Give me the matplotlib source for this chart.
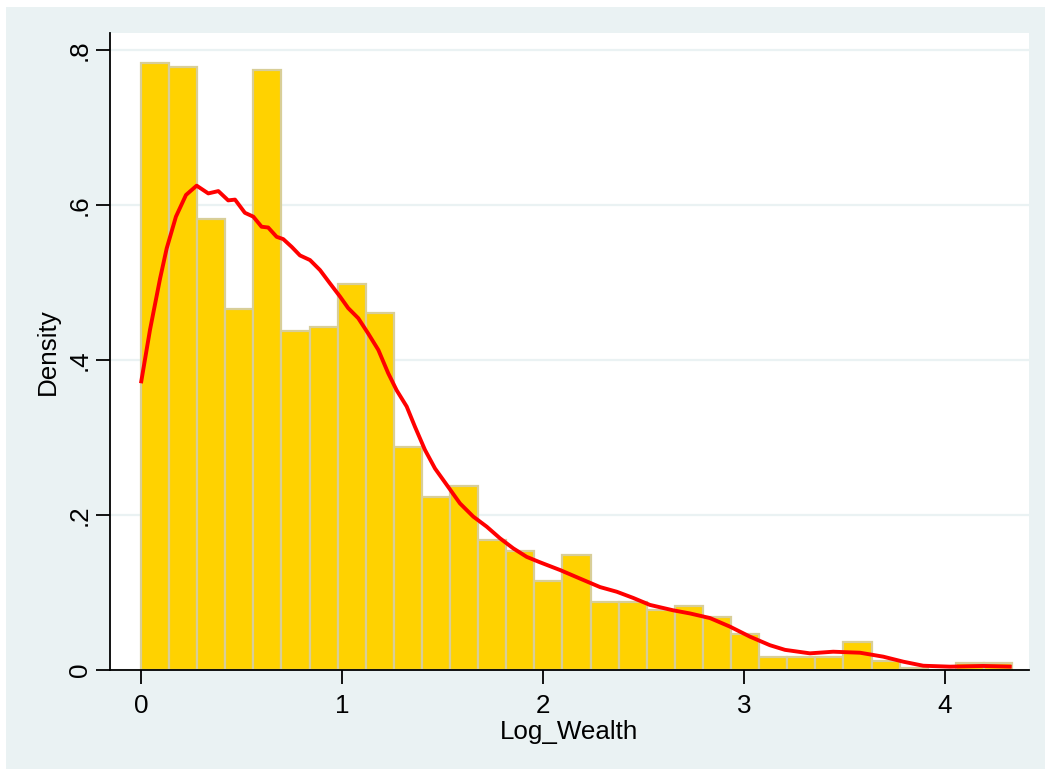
import matplotlib
matplotlib.use("Agg")
import matplotlib.pyplot as plt
from matplotlib.patches import Rectangle

# Histogram of log wealth (density scale)
bin_start = 0.0
bin_width = 0.1398
densities = [0.783, 0.778, 0.582, 0.466, 0.774, 0.438, 0.443, 0.498, 0.461, 0.288,
             0.223, 0.237, 0.168, 0.154, 0.115, 0.148, 0.088, 0.088, 0.078, 0.083,
             0.069, 0.046, 0.017, 0.017, 0.017, 0.036, 0.012, 0.003, 0.0, 0.0086,
             0.0086]

# Kernel density estimate
kde_x = [0.000, 0.045, 0.095, 0.128, 0.174, 0.224, 0.277, 0.335, 0.385, 0.434,
         0.468, 0.517, 0.559, 0.600, 0.633, 0.675, 0.708, 0.750, 0.791, 0.841,
         0.891, 0.940, 0.990, 1.031, 1.081, 1.131, 1.181, 1.230, 1.272, 1.322,
         1.363, 1.413, 1.463, 1.521, 1.587, 1.653, 1.720, 1.786, 1.852, 1.919,
         1.985, 2.085, 2.184, 2.284, 2.367, 2.449, 2.532, 2.648, 2.731, 2.831,
         2.930, 3.030, 3.129, 3.204, 3.328, 3.444, 3.577, 3.693, 3.793, 3.892,
         4.025, 4.190, 4.332]
kde_y = [0.370, 0.439, 0.505, 0.544, 0.585, 0.613, 0.625, 0.615, 0.618, 0.606,
         0.607, 0.590, 0.585, 0.572, 0.571, 0.559, 0.556, 0.546, 0.535, 0.529,
         0.516, 0.499, 0.482, 0.467, 0.454, 0.434, 0.413, 0.383, 0.361, 0.340,
         0.314, 0.284, 0.260, 0.239, 0.215, 0.198, 0.185, 0.170, 0.157, 0.146,
         0.139, 0.129, 0.118, 0.107, 0.101, 0.093, 0.084, 0.077, 0.073, 0.067,
         0.056, 0.043, 0.032, 0.026, 0.0215, 0.0236, 0.0223, 0.0172, 0.0107, 0.0055,
         0.0043, 0.0052, 0.0043]

x_ticks = [0, 1, 2, 3, 4]
y_ticks = [0.0, 0.2, 0.4, 0.6, 0.8]
y_tick_labels = ["0", ".2", ".4", ".6", ".8"]

plt.rcParams["font.family"] = ["Liberation Sans", "DejaVu Sans"]

W, H = 1045, 769
fig = plt.figure(figsize=(W / 100, H / 100), dpi=100, facecolor="white")

# light graph background behind the plot region
bg = Rectangle((6 / W, 0), 1 - 6 / W, 1 - 7 / H, transform=fig.transFigure,
               facecolor="#EAF2F3", edgecolor="none", zorder=-10)
fig.add_artist(bg)

ax = fig.add_axes([110 / W, 1 - 670 / H, (1029 - 110) / W, (670 - 33) / H])
ax.set_zorder(1)
ax.set_facecolor("white")

edges = [bin_start + i * bin_width for i in range(len(densities))]
ax.bar(edges, densities, width=bin_width, align="edge", color="#FFD200",
       edgecolor="#D8CE98", linewidth=1.6, zorder=2)
ax.plot(kde_x, kde_y, color="#FF0000", linewidth=2.8, zorder=3,
        solid_joinstyle="round", solid_capstyle="butt")

ax.set_xlim(-0.154, 4.418)
ax.set_ylim(0, 0.822)

ax.set_yticks(y_ticks)
ax.set_yticklabels(y_tick_labels, rotation=90, va="center")
ax.set_xticks(x_ticks)
ax.yaxis.grid(True, color="#EAF2F3", linewidth=1.6, zorder=1)
ax.set_axisbelow(True)

for s in ("top", "right"):
    ax.spines[s].set_visible(False)
for s in ("left", "bottom"):
    ax.spines[s].set_color("black")
    ax.spines[s].set_linewidth(1.3)

ax.tick_params(axis="both", direction="out", length=10, width=1.3, color="black",
               labelsize=18.7, pad=7)
ax.tick_params(axis="y", pad=3)

ax.set_xlabel("Log_Wealth", fontsize=18.7, labelpad=2)
ax.set_ylabel("Density", fontsize=18.7, labelpad=6)

fig.savefig("out.png", dpi=100, facecolor="white")
